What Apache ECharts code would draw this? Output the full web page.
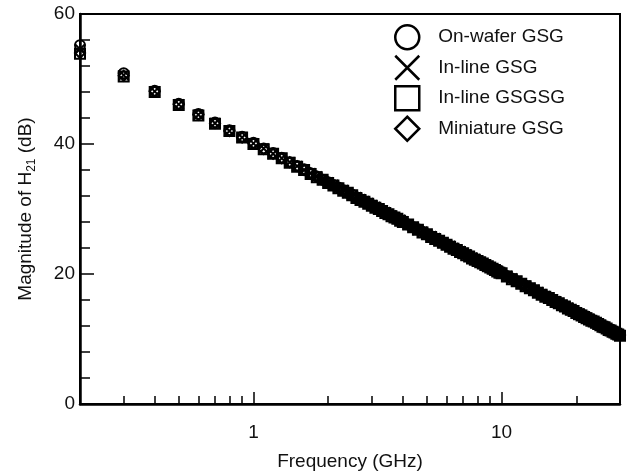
<!DOCTYPE html>
<html lang="en" style="height: 100%">
<head>
<meta charset="utf-8">
<title>Magnitude of H21</title>
</head>
<body style="height: 100%; margin: 0; background: #fff">
<div id="container" style="width: 627px; height: 476px"></div>

<script type="text/javascript" src="https://cdn.jsdelivr.net/npm/echarts/dist/echarts.min.js"></script>

<script type="text/javascript">

// frequency points (GHz)
var freqs = [
    0.2, 0.3, 0.4, 0.5, 0.6, 0.7, 0.8, 0.9, 1.0,
    1.1, 1.2, 1.3, 1.4, 1.5, 1.6, 1.7, 1.8, 1.9, 2.0,
    2.1, 2.2, 2.3, 2.4, 2.5, 2.6, 2.7, 2.8, 2.9, 3.0,
    3.1, 3.2, 3.3, 3.4, 3.5, 3.6, 3.7, 3.8, 3.9, 4.0,
    4.2, 4.4, 4.6, 4.8, 5.0, 5.2, 5.4, 5.6, 5.8, 6.0,
    6.2, 6.4, 6.6, 6.8, 7.0, 7.2, 7.4, 7.6, 7.8, 8.0,
    8.2, 8.4, 8.6, 8.8, 9.0, 9.2, 9.4, 9.6, 9.8, 10,
    10.5, 11, 11.5, 12, 12.5, 13, 13.5, 14, 14.5, 15,
    15.5, 16, 16.5, 17, 17.5, 18, 18.5, 19, 19.5, 20,
    20.5, 21, 21.5, 22, 22.5, 23, 23.5, 24, 24.5, 25,
    25.5, 26, 26.5, 27, 27.5, 28, 28.5, 29, 29.5, 30
];

// |H21| in dB for each probe
var onWafer = [
    55.2, 50.9, 48.2, 46.2, 44.6, 43.3, 42.1, 41.1, 40.2,
    39.3, 38.6, 37.9, 37.2, 36.6, 36.1, 35.5, 35.0, 34.5, 34.1,
    33.7, 33.3, 32.9, 32.5, 32.2, 31.8, 31.5, 31.2, 30.9, 30.6,
    30.3, 30.0, 29.8, 29.5, 29.2, 29.0, 28.7, 28.5, 28.3, 28.1,
    27.6, 27.2, 26.9, 26.5, 26.1, 25.8, 25.5, 25.2, 24.8, 24.5,
    24.3, 24.0, 23.7, 23.5, 23.2, 23.0, 22.7, 22.5, 22.3, 22.1,
    21.8, 21.6, 21.4, 21.2, 21.0, 20.8, 20.6, 20.5, 20.3, 20.1,
    19.7, 19.3, 18.9, 18.5, 18.2, 17.8, 17.5, 17.2, 16.9, 16.6,
    16.3, 16.0, 15.8, 15.5, 15.2, 15.0, 14.8, 14.5, 14.3, 14.1,
    13.9, 13.7, 13.5, 13.3, 13.1, 12.9, 12.7, 12.5, 12.3, 12.2,
    12.0, 11.8, 11.7, 11.5, 11.3, 11.2, 11.0, 10.9, 10.7, 10.6
];
var inLineGsg = [
    54.6, 50.6, 48.1, 46.1, 44.5, 43.2, 42.0, 41.0, 40.1,
    39.3, 38.5, 37.8, 37.2, 36.6, 36.0, 35.5, 35.0, 34.5, 34.1,
    33.7, 33.2, 32.9, 32.5, 32.1, 31.8, 31.5, 31.2, 30.9, 30.6,
    30.3, 30.0, 29.7, 29.5, 29.2, 29.0, 28.7, 28.5, 28.3, 28.1,
    27.6, 27.2, 26.8, 26.5, 26.1, 25.8, 25.5, 25.1, 24.8, 24.5,
    24.3, 24.0, 23.7, 23.5, 23.2, 23.0, 22.7, 22.5, 22.3, 22.0,
    21.8, 21.6, 21.4, 21.2, 21.0, 20.8, 20.6, 20.5, 20.3, 20.1,
    19.7, 19.3, 18.9, 18.5, 18.2, 17.8, 17.5, 17.2, 16.9, 16.6,
    16.3, 16.0, 15.8, 15.5, 15.2, 15.0, 14.8, 14.5, 14.3, 14.1,
    13.9, 13.7, 13.5, 13.3, 13.1, 12.9, 12.7, 12.5, 12.3, 12.1,
    12.0, 11.8, 11.6, 11.5, 11.3, 11.2, 11.0, 10.9, 10.7, 10.6
];
var inLineGsgsg = [
    53.9, 50.4, 48.0, 46.0, 44.4, 43.1, 42.0, 41.0, 40.0,
    39.2, 38.5, 37.8, 37.1, 36.5, 36.0, 35.4, 34.9, 34.5, 34.0,
    33.6, 33.2, 32.8, 32.5, 32.1, 31.7, 31.4, 31.1, 30.8, 30.5,
    30.2, 30.0, 29.7, 29.4, 29.2, 28.9, 28.7, 28.5, 28.2, 28.0,
    27.6, 27.2, 26.8, 26.4, 26.1, 25.7, 25.4, 25.1, 24.8, 24.5,
    24.2, 23.9, 23.7, 23.4, 23.2, 22.9, 22.7, 22.4, 22.2, 22.0,
    21.8, 21.6, 21.4, 21.2, 21.0, 20.8, 20.6, 20.4, 20.2, 20.1,
    19.6, 19.2, 18.9, 18.5, 18.1, 17.8, 17.5, 17.1, 16.8, 16.5,
    16.3, 16.0, 15.7, 15.5, 15.2, 15.0, 14.7, 14.5, 14.3, 14.0,
    13.8, 13.6, 13.4, 13.2, 13.0, 12.8, 12.7, 12.5, 12.3, 12.1,
    11.9, 11.8, 11.6, 11.4, 11.3, 11.1, 11.0, 10.8, 10.7, 10.5
];
var miniatureGsg = [
    54.0, 50.5, 48.1, 46.1, 44.5, 43.2, 42.0, 41.0, 40.1,
    39.2, 38.5, 37.8, 37.2, 36.6, 36.0, 35.5, 35.0, 34.5, 34.1,
    33.6, 33.2, 32.9, 32.5, 32.1, 31.8, 31.5, 31.1, 30.8, 30.5,
    30.2, 30.0, 29.7, 29.5, 29.2, 29.0, 28.7, 28.5, 28.3, 28.0,
    27.6, 27.2, 26.8, 26.5, 26.1, 25.8, 25.4, 25.1, 24.8, 24.5,
    24.2, 24.0, 23.7, 23.4, 23.2, 22.9, 22.7, 22.5, 22.2, 22.0,
    21.8, 21.6, 21.4, 21.2, 21.0, 20.8, 20.6, 20.4, 20.3, 20.1,
    19.7, 19.3, 18.9, 18.5, 18.1, 17.8, 17.5, 17.2, 16.9, 16.6,
    16.3, 16.0, 15.7, 15.5, 15.2, 15.0, 14.8, 14.5, 14.3, 14.1,
    13.9, 13.7, 13.5, 13.3, 13.1, 12.9, 12.7, 12.5, 12.3, 12.1,
    12.0, 11.8, 11.6, 11.4, 11.3, 11.1, 11.0, 10.9, 10.7, 10.6
];

var seriesNames = ['On-wafer GSG', 'In-line GSG', 'In-line GSGSG', 'Miniature GSG'];
var xMajorTicks = [1, 10];
var xMinorTicks = [0.3, 0.4, 0.5, 0.6, 0.7, 0.8, 0.9, 2, 3, 4, 5, 6, 7, 8, 9, 20];

var symbols = ['circle', 'path://M0,0L10,10M10,0L0,10', 'rect', 'diamond'];
var allValues = [onWafer, inLineGsg, inLineGsgsg, miniatureGsg];

var font = '"Liberation Sans", Arial, Helvetica, sans-serif';

var dom = document.getElementById('container');
var myChart = echarts.init(dom);

function pairs(values) {
    return freqs.map(function (f, i) { return [f, values[i]]; });
}

var option = {
    backgroundColor: '#fff',
    animation: false,
    textStyle: { fontFamily: font, color: '#111' },
    grid: {
        left: 80,
        right: 7,
        top: 14,
        bottom: 66,
        show: true,
        borderColor: '#000',
        borderWidth: 2
    },
    legend: {
        orient: 'vertical',
        left: 389,
        top: 19,
        itemWidth: 24,
        itemHeight: 24,
        itemGap: 4,
        symbolKeepAspect: true,
        data: seriesNames.map(function (n, i) { return { name: n, icon: symbols[i] }; }),
        itemStyle: { color: 'rgba(0,0,0,0)', borderColor: '#000', borderWidth: 2.5 },
        textStyle: { fontFamily: font, fontSize: 19, color: '#111', padding: [0, 0, 0, 14] }
    },
    xAxis: [{
        type: 'log',
        logBase: 10,
        min: 0.2,
        max: 30,
        name: 'Frequency (GHz)',
        nameLocation: 'middle',
        nameGap: 48,
        nameTextStyle: { fontFamily: font, fontSize: 19, color: '#111' },
        axisLine: { lineStyle: { color: '#000', width: 2.5 } },
        axisTick: { show: true, inside: true, length: 12, customValues: xMajorTicks,
            lineStyle: { color: '#000', width: 1.5 } },
        axisLabel: { customValues: xMajorTicks, fontSize: 19, color: '#111', margin: 19 },
        splitLine: { show: false }
    }, {
        type: 'log',
        logBase: 10,
        min: 0.2,
        max: 30,
        position: 'bottom',
        axisLine: { show: false },
        axisTick: { show: true, inside: true, length: 8, customValues: xMinorTicks,
            lineStyle: { color: '#000', width: 1.5 } },
        axisLabel: { show: false },
        splitLine: { show: false }
    }],
    yAxis: {
        type: 'value',
        min: 0,
        max: 60,
        interval: 20,
        name: 'Magnitude of H{sub|21} (dB)',
        nameLocation: 'middle',
        nameGap: 42,
        nameTextStyle: {
            fontFamily: font, fontSize: 19, color: '#111', lineHeight: 24,
            rich: { sub: { fontFamily: font, fontSize: 12, lineHeight: 24, verticalAlign: 'bottom', color: '#111' } }
        },
        axisLine: { show: true, lineStyle: { color: '#000', width: 2.5 } },
        axisTick: { inside: true, length: 14, lineStyle: { color: '#000', width: 1.5 } },
        minorTick: { show: true, splitNumber: 5, length: 10, lineStyle: { color: '#000', width: 1.5 } },
        axisLabel: { fontSize: 19, color: '#111', margin: 5 },
        splitLine: { show: false }
    },
    series: seriesNames.map(function (n, i) {
        return {
            name: n,
            type: 'scatter',
            xAxisIndex: 0,
            symbol: symbols[i],
            symbolSize: 10,
            clip: false,
            itemStyle: { color: 'rgba(0,0,0,0)', borderColor: '#000', borderWidth: 2, opacity: 1 },
            data: pairs(allValues[i])
        };
    })
};

myChart.setOption(option);
window.addEventListener('resize', myChart.resize);
</script>
</body>
</html>
